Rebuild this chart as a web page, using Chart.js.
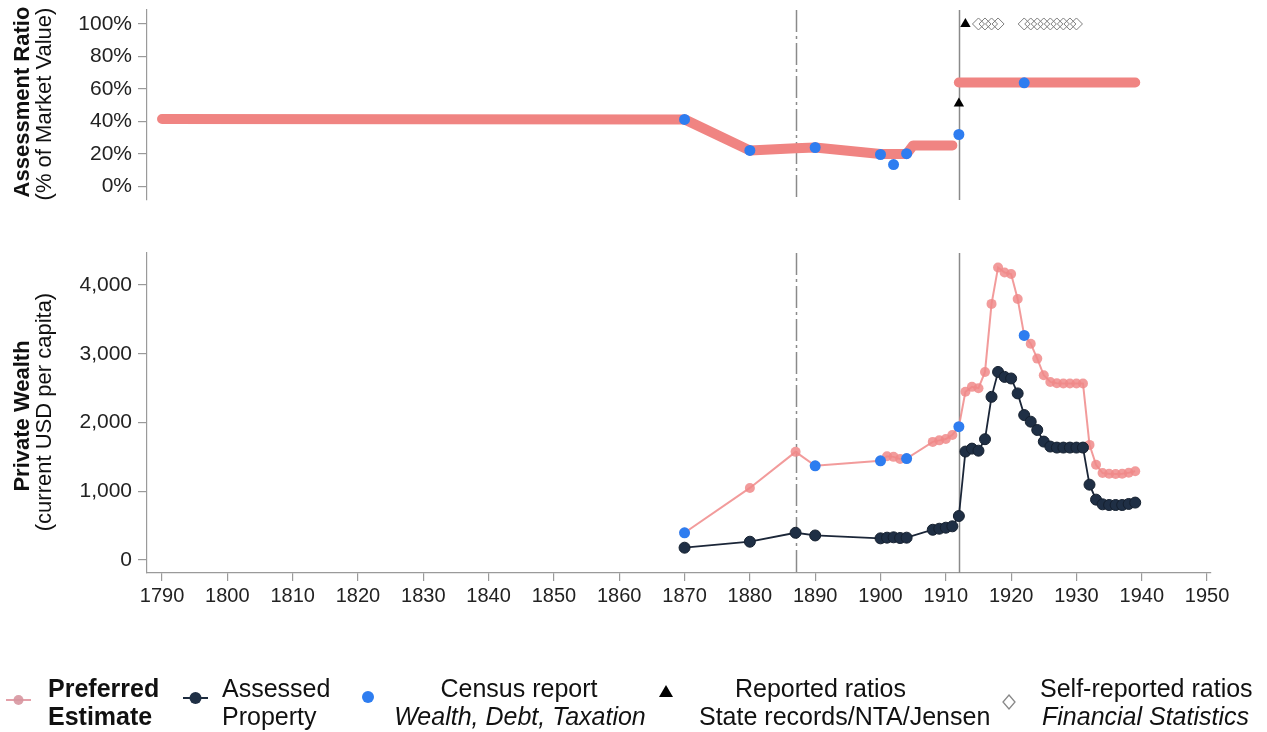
<!DOCTYPE html>
<html><head><meta charset="utf-8">
<script src="https://cdn.jsdelivr.net/npm/chart.js@4.4.1/dist/chart.umd.min.js"></script>
<style>
html,body{margin:0;padding:0;background:#fff;}
body{width:1267px;height:732px;position:relative;overflow:hidden;font-family:"Liberation Sans",Arial,Helvetica,sans-serif;color:#111;}
canvas{position:absolute;left:0;}
#topChart{top:0;}
#bottomChart{top:240px;}
.ytitle{position:absolute;white-space:nowrap;transform:translate(-50%,-50%) rotate(-90deg);font-size:22px;line-height:1;}
.lg{position:absolute;white-space:nowrap;font-size:25px;line-height:1;}
.c{text-align:center;width:400px;}
svg{position:absolute;overflow:visible;}
</style></head><body>
<canvas id="topChart" width="1267" height="215"></canvas>
<canvas id="bottomChart" width="1267" height="380"></canvas>

<div class="ytitle" style="left:22px;top:102px;font-weight:bold">Assessment Ratio</div>
<div class="ytitle" style="left:44px;top:104px">(% of Market Value)</div>
<div class="ytitle" style="left:22px;top:416px;font-weight:bold">Private Wealth</div>
<div class="ytitle" style="left:44px;top:412px">(current USD per capita)</div>

<!-- legend -->
<svg style="left:0;top:0" width="1267" height="732">
  <line x1="6" y1="700" x2="31" y2="700" stroke="rgba(225,150,160,0.9)" stroke-width="2"/>
  <circle cx="18.5" cy="700" r="5" fill="rgba(215,150,160,0.9)"/>
  <line x1="183" y1="698" x2="208" y2="698" stroke="#1d2b3e" stroke-width="2"/>
  <circle cx="195.5" cy="698" r="6" fill="#1f2f45"/>
  <circle cx="368" cy="697" r="6" fill="#2e7df0"/>
  <polygon points="666,685 673,697 659,697" fill="#000"/>
  <polygon points="1009,695 1015,702 1009,709 1003,702" fill="none" stroke="#888" stroke-width="1.3"/>
</svg>
<div class="lg" style="left:48px;top:676px;font-weight:bold">Preferred</div>
<div class="lg" style="left:48px;top:704px;font-weight:bold">Estimate</div>
<div class="lg" style="left:222px;top:676px">Assessed</div>
<div class="lg" style="left:222px;top:704px">Property</div>
<div class="lg c" style="left:319px;top:676px">Census report</div>
<div class="lg c" style="left:320px;top:704px;font-style:italic">Wealth, Debt, Taxation</div>
<div class="lg" style="left:735px;top:676px">Reported ratios</div>
<div class="lg" style="left:699px;top:704px">State records/NTA/Jensen</div>
<div class="lg" style="left:1040px;top:676px">Self-reported ratios</div>
<div class="lg" style="left:1042px;top:704px;font-style:italic">Financial Statistics</div>

<script>
// ---------- data ----------
const xTickYears = [1790,1800,1810,1820,1830,1840,1850,1860,1870,1880,1890,1900,1910,1920,1930,1940,1950];
const ratioTicks = [0,20,40,60,80,100];
const wealthTicks = [0,1000,2000,3000,4000];
const referenceYears = [1887, 1912];

// Assessment ratio panel (%)
const prefRatioYears  = [1790,1870,1880,1887,1890,1900,1904,1905,1911,1912,1939];
const prefRatioValues = [41.5,41.3,22.2,23.5,24,20,20,25.3,25.3,64,64];
const ratioBreakYear = 1912;

const censusRatioYears  = [1870,1880,1890,1900,1902,1904,1912,1922];
const censusRatioValues = [41.3,22.2,24,19.7,13.5,20.2,32,63.8];

const reportedRatioYears  = [1912,1913];
const reportedRatioValues = [51,100];

const selfReportedYears  = [1915,1916,1917,1918,1922,1923,1924,1925,1926,1927,1928,1929,1930];
const selfReportedValues = [100,100,100,100,100,100,100,100,100,100,100,100,100];

// Private wealth panel (USD per capita)
const prefWealthYears  = [1870,1880,1887,1890,1900,1901,1902,1903,1904,1908,1909,1910,1911,1912,1913,1914,1915,1916,1917,1918,1919,1920,1921,1922,1923,1924,1925,1926,1927,1928,1929,1930,1931,1932,1933,1934,1935,1936,1937,1938,1939];
const prefWealthValues = [396,1048,1573,1370,1443,1510,1500,1470,1476,1718,1740,1760,1819,1939,2446,2518,2499,2735,3725,4255,4182,4159,3797,3266,3146,2929,2687,2590,2570,2567,2567,2567,2567,1674,1385,1265,1255,1250,1255,1270,1290];

const assessedYears  = [1870,1880,1887,1890,1900,1901,1902,1903,1904,1908,1909,1910,1911,1912,1913,1914,1915,1916,1917,1918,1919,1920,1921,1922,1923,1924,1925,1926,1927,1928,1929,1930,1931,1932,1933,1934,1935,1936,1937,1938,1939];
const assessedValues = [179,266,396,357,315,325,330,320,325,440,455,470,490,640,1577,1620,1590,1757,2373,2735,2663,2640,2423,2108,2012,1891,1722,1650,1635,1635,1635,1635,1635,1096,878,810,800,800,800,815,835];

const censusWealthYears  = [1870,1890,1900,1904,1912,1922];
const censusWealthValues = [396,1370,1443,1476,1939,3266];

// ---------- helpers ----------
const zip = (xs, ys) => xs.map((x, i) => ({x: x, y: ys[i]}));
const FONT = '"Liberation Sans", Arial, Helvetica, sans-serif';
const AXIS = '#9a9a9a';
const PINK = 'rgb(240,132,130)';
const PINK_SOFT = 'rgba(240,138,138,0.85)';
const NAVY = '#1f2f45';
const BLUE = '#2e7df0';

const refLinePlugin = {
  id: 'refLines',
  beforeDatasetsDraw(chart) {
    const {ctx, chartArea, scales} = chart;
    const dashes = [[22,4,3,4], []];
    referenceYears.forEach((yr, i) => {
      const px = Math.round(scales.x.getPixelForValue(yr)) + 0.5;
      ctx.save();
      ctx.strokeStyle = '#8a8a8a';
      ctx.lineWidth = 1.5;
      ctx.setLineDash(dashes[i]);
      ctx.beginPath();
      ctx.moveTo(px, chartArea.top);
      ctx.lineTo(px, chartArea.bottom);
      ctx.stroke();
      ctx.restore();
    });
  }
};

const xScale = (show) => ({
  type: 'linear', min: 1787.7, max: 1950.6,
  display: show,
  afterBuildTicks: s => { s.ticks = xTickYears.map(v => ({value: v})); },
  afterFit: s => { if (show) s.height = 47; },
  grid: {drawOnChartArea: false, drawTicks: true, tickLength: 8, color: AXIS, lineWidth: 1.2},
  border: {display: true, color: AXIS, width: 1.2},
  ticks: {autoSkip: false, maxRotation: 0, padding: 3, color: '#222', font: {family: FONT, size: 20}, callback: v => String(v)}
});

const yScale = (min, max, tickVals, fmt) => ({
  type: 'linear', min: min, max: max,
  afterBuildTicks: s => { s.ticks = tickVals.map(v => ({value: v})); },
  afterFit: s => { s.width = 147; s.paddingTop = 0; s.paddingBottom = 0; },
  grid: {drawOnChartArea: false, drawTicks: true, tickLength: 9, color: AXIS, lineWidth: 1.2},
  border: {display: true, color: AXIS, width: 1.2},
  ticks: {padding: 6, color: '#222', font: {family: FONT, size: 21}, callback: fmt}
});

const baseOpts = {
  responsive: false, animation: false, devicePixelRatio: 1,
  plugins: {legend: {display: false}, tooltip: {enabled: false}},
  elements: {line: {tension: 0}}
};

// ---------- top panel ----------
new Chart(document.getElementById('topChart'), {
  type: 'line',
  data: {datasets: [
    {label: 'Preferred Estimate', data: zip(prefRatioYears, prefRatioValues), order: 3,
     borderColor: PINK, borderWidth: 10, borderCapStyle: 'round', borderJoinStyle: 'round', pointRadius: 0,
     segment: {borderColor: c => (c.p1.parsed.x === ratioBreakYear ? 'rgba(0,0,0,0)' : undefined)}},
    {label: 'Census report', data: zip(censusRatioYears, censusRatioValues), showLine: false, order: 1,
     pointRadius: 5.5, pointBackgroundColor: BLUE, pointBorderWidth: 0},
    {label: 'Reported ratios', data: zip(reportedRatioYears, reportedRatioValues), showLine: false, order: 0,
     pointStyle: 'triangle', pointRadius: 6, pointBackgroundColor: '#000', pointBorderColor: '#000', pointBorderWidth: 0},
    {label: 'Self-reported ratios', data: zip(selfReportedYears, selfReportedValues), showLine: false, order: 0,
     pointStyle: 'rectRot', pointRadius: 6, pointBackgroundColor: 'rgba(0,0,0,0)', pointBorderColor: '#7d7d7d', pointBorderWidth: 1}
  ]},
  options: Object.assign({}, baseOpts, {
    layout: {padding: {top: 10, bottom: 15, left: 0, right: 56}},
    scales: {
      x: xScale(false),
      y: yScale(-8.3, 108.6, ratioTicks, v => v + '%')
    }
  }),
  plugins: [refLinePlugin]
});

// ---------- bottom panel ----------
new Chart(document.getElementById('bottomChart'), {
  type: 'line',
  data: {datasets: [
    {label: 'Preferred Estimate', data: zip(prefWealthYears, prefWealthValues), order: 3,
     borderColor: PINK_SOFT, borderWidth: 2, pointRadius: 5, pointBackgroundColor: PINK_SOFT, pointBorderWidth: 0},
    {label: 'Assessed Property', data: zip(assessedYears, assessedValues), order: 2,
     borderColor: '#1b2638', borderWidth: 1.8, pointRadius: 5.5, pointBackgroundColor: NAVY, pointBorderColor: '#15202f', pointBorderWidth: 1},
    {label: 'Census report', data: zip(censusWealthYears, censusWealthValues), showLine: false, order: 1,
     pointRadius: 5.5, pointBackgroundColor: BLUE, pointBorderWidth: 0}
  ]},
  options: Object.assign({}, baseOpts, {
    layout: {padding: {top: 13, bottom: 0, left: 0, right: 56}},
    scales: {
      x: xScale(true),
      y: yScale(-189, 4465, wealthTicks, v => v.toLocaleString('en-US'))
    }
  }),
  plugins: [refLinePlugin]
});
</script>
</body></html>
